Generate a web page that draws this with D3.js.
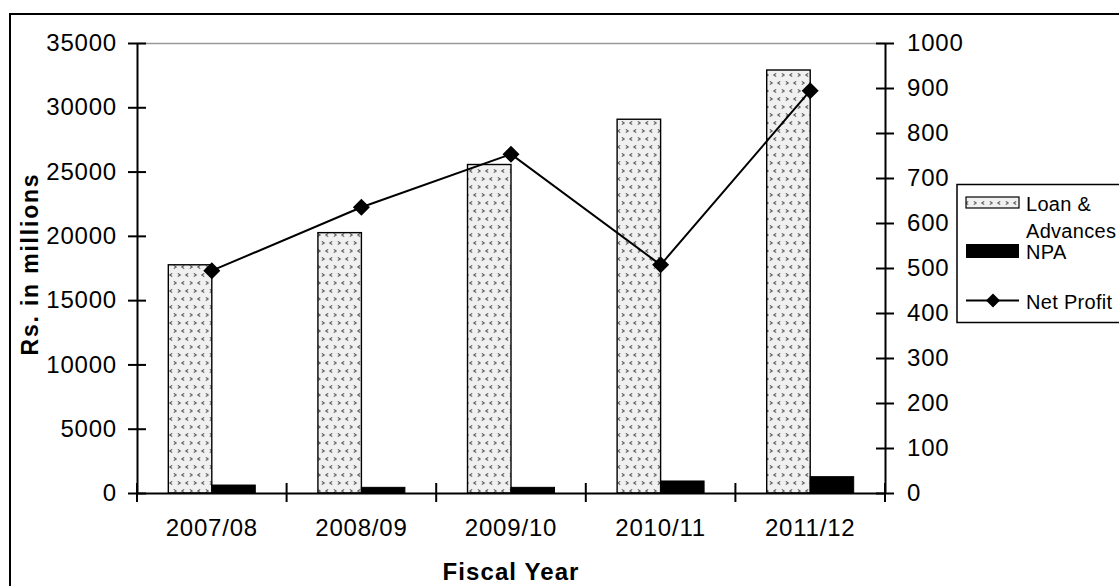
<!DOCTYPE html>
<html>
<head>
<meta charset="utf-8">
<script src="https://cdn.jsdelivr.net/npm/d3@7"></script>
<style>
  html, body { margin: 0; padding: 0; background: #fff; }
  svg { display: block; }
  text { font-family: "Liberation Sans", Arial, sans-serif; fill: #000; }
</style>
</head>
<body>
<svg id="chart" width="1119" height="586"></svg>
<script>
// Fiscal years and the three series
const years = ["2007/08", "2008/09", "2009/10", "2010/11", "2011/12"];
const loanAdvances = [17750, 20250, 25550, 29070, 32900];
const npa = [620, 440, 440, 935, 1270];
const netProfit = [494, 635, 753, 507, 894];

const leftTicks = [0, 5000, 10000, 15000, 20000, 25000, 30000, 35000];
const rightTicks = [0, 100, 200, 300, 400, 500, 600, 700, 800, 900, 1000];

const svg = d3.select("#chart");

// plot area
const plot = { left: 137, right: 885, top: 43, bottom: 493 };

const x0 = d3.scaleBand().domain(years).range([plot.left, plot.right]).padding(0);
const x1 = d3.scaleBand().domain(["loan", "npa"]).range([0, x0.bandwidth()])
  .paddingInner(0).paddingOuter(0.72);
const yL = d3.scaleLinear().domain([0, 35000]).range([plot.bottom, plot.top]);
const yR = d3.scaleLinear().domain([0, 1000]).range([plot.bottom, plot.top]);

// dotted fill for the loan bars
const defs = svg.append("defs");
const pat = defs.append("pattern").attr("id", "dots")
  .attr("patternUnits", "userSpaceOnUse").attr("width", 16).attr("height", 16);
pat.append("rect").attr("width", 16).attr("height", 16).attr("fill", "#f0f0f0");
const chev = [
  { x: 3, y: 3, d: ">" }, { x: 11, y: 3, d: "<" },
  { x: 7, y: 11, d: "<" }, { x: 15, y: 11, d: ">" }, { x: -1, y: 11, d: ">" }
];
chev.forEach(c => {
  const s = c.d === ">" ? 1 : -1;
  pat.append("path")
    .attr("d", `M${c.x - s * 1.2},${c.y - 1.6} L${c.x + s * 1.2},${c.y} L${c.x - s * 1.2},${c.y + 1.6}`)
    .attr("fill", "none").attr("stroke", "#555").attr("stroke-width", 1.1);
});

// outer frame
svg.append("rect").attr("x", 10).attr("y", 14).attr("width", 1116).attr("height", 590)
  .attr("fill", "#fff").attr("stroke", "#000").attr("stroke-width", 2);

// plot area top edge
svg.append("line").attr("x1", plot.left).attr("x2", plot.right)
  .attr("y1", plot.top + 0.5).attr("y2", plot.top + 0.5)
  .attr("stroke", "#999").attr("stroke-width", 1.5);

// bars
const g = svg.append("g");
years.forEach((yr, i) => {
  const bx = x0(yr);
  g.append("rect")
    .attr("x", bx + x1("loan")).attr("y", yL(loanAdvances[i]))
    .attr("width", x1.bandwidth()).attr("height", yL(0) - yL(loanAdvances[i]))
    .attr("fill", "url(#dots)").attr("stroke", "#000").attr("stroke-width", 1.4);
  g.append("rect")
    .attr("x", bx + x1("npa")).attr("y", yL(npa[i]))
    .attr("width", x1.bandwidth()).attr("height", yL(0) - yL(npa[i]))
    .attr("fill", "#000").attr("stroke", "#000").attr("stroke-width", 1);
});

// axes
const plain = d3.format("d");
const axL = d3.axisLeft(yL).tickValues(leftTicks).tickFormat(plain)
  .tickSizeInner(9).tickSizeOuter(0).tickPadding(11);
const gL = svg.append("g").attr("transform", `translate(${plot.left},0)`).call(axL);
const axR = d3.axisRight(yR).tickValues(rightTicks).tickFormat(plain)
  .tickSizeInner(9).tickSizeOuter(0).tickPadding(13);
const gR = svg.append("g").attr("transform", `translate(${plot.right},0)`).call(axR);
const axB = d3.axisBottom(x0).tickSizeInner(0).tickSizeOuter(0).tickPadding(26);
const gB = svg.append("g").attr("transform", `translate(0,${plot.bottom})`).call(axB);

[gL, gR, gB].forEach(ga => {
  ga.select(".domain").attr("stroke", "#000").attr("stroke-width", 2);
  ga.selectAll(".tick line").attr("stroke", "#000").attr("stroke-width", 2);
  ga.selectAll(".tick text").style("font-family", '"Liberation Sans", Arial, sans-serif')
    .style("font-size", "24px").style("letter-spacing", "0.8px").attr("fill", "#000");
});
// ticks cross the vertical axes
gL.selectAll(".tick line").attr("x1", 9);
gR.selectAll(".tick line").attr("x1", -9);

// category dividers across the x axis
const dividers = years.map(y => x0(y)).concat([plot.right]);
svg.append("g").selectAll("line").data(dividers).join("line")
  .attr("x1", d => d).attr("x2", d => d)
  .attr("y1", plot.bottom - 10).attr("y2", plot.bottom + 9)
  .attr("stroke", "#000").attr("stroke-width", 2);

// net profit line
const cx = i => x0(years[i]) + x0.bandwidth() / 2;
const line = d3.line().x((d, i) => cx(i)).y(d => yR(d));
svg.append("path").datum(netProfit).attr("d", line)
  .attr("fill", "none").attr("stroke", "#000").attr("stroke-width", 2);
const diamond = r => `M0,${-r} L${r},0 L0,${r} L${-r},0 Z`;
svg.append("g").selectAll("path").data(netProfit).join("path")
  .attr("transform", (d, i) => `translate(${cx(i)},${yR(d)})`)
  .attr("d", diamond(8.5)).attr("fill", "#000");

// axis titles
svg.append("text").attr("x", (plot.left + plot.right) / 2).attr("y", 580)
  .attr("text-anchor", "middle").style("font-size", "24px").style("font-weight", "bold")
  .style("letter-spacing", "1.1px").text("Fiscal Year");
svg.append("text").attr("transform", "translate(38,264) rotate(-90)")
  .attr("text-anchor", "middle").style("font-size", "23px").style("font-weight", "bold")
  .style("letter-spacing", "1.8px").text("Rs. in millions");

// legend
const lg = svg.append("g");
lg.append("rect").attr("x", 957).attr("y", 184.5).attr("width", 200).attr("height", 138)
  .attr("fill", "#fff").attr("stroke", "#000").attr("stroke-width", 1.5);
lg.append("rect").attr("x", 966).attr("y", 197).attr("width", 53).attr("height", 11)
  .attr("fill", "url(#dots)").attr("stroke", "#000").attr("stroke-width", 1.2);
lg.append("rect").attr("x", 966).attr("y", 244).attr("width", 53).attr("height", 14)
  .attr("fill", "#000");
lg.append("line").attr("x1", 966).attr("x2", 1019).attr("y1", 300.5).attr("y2", 300.5)
  .attr("stroke", "#000").attr("stroke-width", 2);
lg.append("path").attr("transform", "translate(993,300.5)").attr("d", diamond(7)).attr("fill", "#000");
const legendText = [
  { t: "Loan &", y: 211 },
  { t: "Advances", y: 238 },
  { t: "NPA", y: 259 },
  { t: "Net Profit", y: 309 }
];
lg.selectAll("text.lt").data(legendText).join("text").attr("class", "lt")
  .attr("x", 1026).attr("y", d => d.y)
  .style("font-size", "20px").style("letter-spacing", "0.3px").text(d => d.t);
</script>
</body>
</html>
